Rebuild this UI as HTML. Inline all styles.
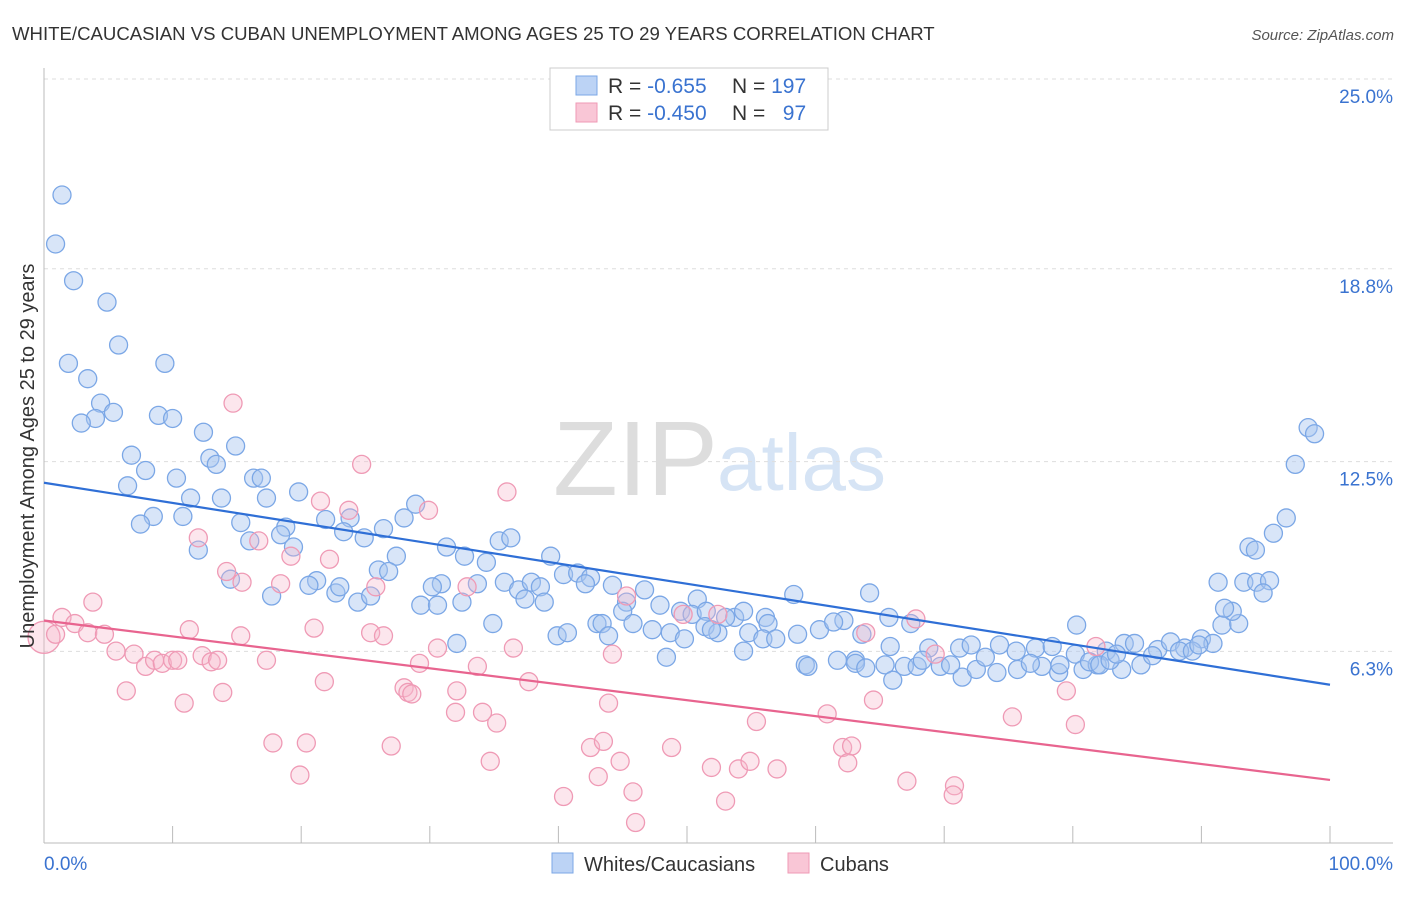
<!DOCTYPE html>
<html><head><meta charset="utf-8">
<style>
body{margin:0;background:#fff;font-family:"Liberation Sans",sans-serif;}
svg text{font-family:"Liberation Sans",sans-serif;}
</style></head>
<body>
<svg id="chart" width="1406" height="892" viewBox="0 0 1406 892" xmlns="http://www.w3.org/2000/svg">
<text x="12" y="40" font-size="18.6" fill="#333">WHITE/CAUCASIAN VS CUBAN UNEMPLOYMENT AMONG AGES 25 TO 29 YEARS CORRELATION CHART</text>
<text x="1394" y="40" font-size="15" fill="#555" font-style="italic" text-anchor="end">Source: ZipAtlas.com</text>
<g>
<text x="553" y="495" font-size="106" fill="#ddd" font-family="Liberation Serif">ZIP</text>
<text x="717" y="490" font-size="80" fill="#d6e4f5">atlas</text>
</g>
<g id="grid"></g>
<g id="axes"></g>
<g id="points"></g>
<g id="lines"></g>
<text x="34" y="456" font-size="20" fill="#333" text-anchor="middle" transform="rotate(-90 34 456)">Unemployment Among Ages 25 to 29 years</text>
<g>
<rect x="550" y="68" width="278" height="62" fill="#fff" stroke="#ccc"/>
<rect x="576" y="76" width="21" height="19" fill="#bcd3f5" stroke="#7ba7e6"/>
<rect x="576" y="103" width="21" height="19" fill="#f9c6d6" stroke="#ef9ab5"/>
<text x="608" y="93" font-size="21" fill="#333">R = <tspan fill="#3a73d0">-0.655</tspan></text>
<text x="732" y="93" font-size="21" fill="#333">N = <tspan fill="#3a73d0">197</tspan></text>
<text x="608" y="120" font-size="21" fill="#333">R = <tspan fill="#3a73d0">-0.450</tspan></text>
<text x="732" y="120" font-size="21" fill="#333">N = <tspan fill="#3a73d0">&#160;&#160;97</tspan></text>
</g>
<g>
<rect x="552" y="853" width="21" height="20" fill="#bcd3f5" stroke="#7ba7e6"/>
<text x="584" y="871" font-size="20" fill="#333">Whites/Caucasians</text>
<rect x="788" y="853" width="21" height="20" fill="#f9c6d6" stroke="#ef9ab5"/>
<text x="820" y="871" font-size="20" fill="#333">Cubans</text>
</g>
</svg>
<script>
const yTicks=[25.0,18.8,12.5,6.3];
const yTickLabels=["25.0%","18.8%","12.5%","6.3%"];
const xTicks=[0,10,20,30,40,50,60,70,80,90,100];
const whitesX=[1.4,0.9,2.3,4.9,5.8,1.9,9.4,3.4,4.4,5.4,4.0,2.9,8.9,10.0,12.4,14.9,6.8,12.9,13.4,7.9,10.3,16.3,16.9,6.5,11.4,13.8,17.3,19.8,8.5,10.8,7.5,15.3,21.9,23.8,18.8,23.3,26.4,28.0,28.9,18.4,19.4,16.0,12.0,24.9,31.3,32.7,35.4,36.3,39.4,27.4,26.0,26.8,30.9,33.7,34.4,35.8,30.2,21.2,20.6,17.7,14.5,22.7,24.4,25.4,23.0,29.3,30.6,32.5,36.9,37.9,38.6,40.4,41.5,42.5,42.1,44.2,46.7,45.3,47.9,50.8,37.4,38.9,43.0,43.4,45.0,45.8,49.5,50.4,51.5,53.7,56.1,51.4,52.4,53.0,54.4,58.3,64.2,62.2,65.7,67.4,56.3,39.9,40.7,43.9,47.3,48.7,49.8,51.9,54.8,55.9,56.9,58.6,60.3,61.4,63.6,65.8,68.8,71.2,72.1,74.3,75.6,77.1,78.4,80.2,80.3,82.6,84.0,84.8,86.6,87.6,88.7,90.0,90.9,91.6,92.9,92.4,91.8,91.3,93.3,94.3,95.3,94.8,93.7,94.2,95.6,96.6,97.3,98.3,98.8,34.9,32.1,48.4,54.4,59.2,59.4,61.7,63.1,65.4,66.9,67.9,69.7,71.4,72.5,74.1,75.7,77.6,78.9,80.8,81.9,83.8,85.3,86.2,88.3,89.3,89.8,63.1,63.9,66.0,68.3,70.5,73.2,76.7,79.0,81.3,82.1,82.9,83.4];
const whitesY=[21.8,20.2,19.0,18.3,16.9,16.3,16.3,15.8,15.0,14.7,14.5,14.35,14.6,14.5,14.05,13.6,13.3,13.2,13.0,12.8,12.55,12.55,12.55,12.3,11.9,11.9,11.9,12.1,11.3,11.3,11.05,11.1,11.2,11.25,10.95,10.8,10.9,11.25,11.7,10.7,10.3,10.5,10.2,10.6,10.3,10.0,10.5,10.6,10.0,10.0,9.55,9.5,9.1,9.1,9.8,9.15,9.0,9.2,9.05,8.7,9.25,8.8,8.5,8.7,9.0,8.4,8.4,8.5,8.9,9.15,9.0,9.4,9.45,9.3,9.1,9.05,8.9,8.5,8.4,8.6,8.6,8.5,7.8,7.8,8.2,7.8,8.2,8.1,8.2,8.0,8.0,7.7,7.5,8.0,8.2,8.75,8.8,7.9,8.0,7.8,7.8,7.4,7.5,7.4,7.6,7.5,7.3,7.6,7.5,7.3,7.3,7.45,7.6,7.85,7.45,7.05,7.0,7.0,7.1,7.1,6.9,7.0,7.05,6.8,7.75,6.9,7.15,7.15,6.95,7.2,7.0,7.3,7.15,7.75,7.8,8.2,8.3,9.15,9.15,9.15,9.2,8.8,10.3,10.2,10.75,11.25,13.0,14.2,14.0,7.8,7.15,6.7,6.9,6.45,6.4,6.6,6.6,6.45,6.4,6.4,6.4,6.05,6.3,6.2,6.3,6.4,6.2,6.3,6.45,6.3,6.45,6.75,6.9,6.9,7.1,6.5,6.35,5.95,6.6,6.45,6.7,6.5,6.45,6.55,6.45,6.6,6.8];
const cubansX=[0,1.4,2.4,3.8,0.9,3.4,4.7,5.6,7.0,7.9,8.6,9.2,10.0,10.4,12.3,13.0,13.5,6.4,10.9,13.9,14.7,24.7,36.0,21.5,23.7,29.9,12.0,16.7,19.2,22.2,14.2,15.4,18.4,25.8,32.9,45.3,49.7,52.4,63.9,67.8,69.3,81.8,11.3,15.3,21.0,25.4,26.4,30.6,36.5,44.2,17.3,29.2,33.7,21.8,32.1,37.7,28.0,28.3,28.6,43.9,34.1,32.0,35.2,64.5,79.5,55.4,60.9,75.3,80.2,17.8,20.4,27.0,42.5,43.5,48.8,62.1,62.8,34.7,44.8,51.9,54.0,54.9,57.0,62.5,19.9,43.1,67.1,70.8,70.7,40.4,45.8,53.0,46.0];
const cubansY=[7.35,8.0,7.8,8.5,7.45,7.5,7.45,6.9,6.8,6.4,6.6,6.5,6.6,6.6,6.75,6.55,6.6,5.6,5.2,5.55,15.0,13.0,12.1,11.8,11.5,11.5,10.6,10.5,10.0,9.9,9.5,9.15,9.1,9.0,9.0,8.7,8.1,8.1,7.5,7.95,6.8,7.05,7.6,7.4,7.65,7.5,7.4,7.0,7.0,6.8,6.6,6.5,6.4,5.9,5.6,5.9,5.7,5.55,5.5,5.2,4.9,4.9,4.55,5.3,5.6,4.6,4.85,4.75,4.5,3.9,3.9,3.8,3.75,3.95,3.75,3.75,3.8,3.3,3.3,3.1,3.05,3.3,3.05,3.25,2.85,2.8,2.65,2.5,2.2,2.15,2.3,2.0,1.3];
const whitesTrend=[12.4,5.8];
const cubansTrend=[7.9,2.69];
const READ_OFFSET=0.59;
const NS='http://www.w3.org/2000/svg';
const X0=44,XW=12.86,Y0=79,YK=30.61;
function xs(v){return X0+v*XW;}
function ys(v){return Y0+(25-v)*YK;}
function yd(v){return ys(v-READ_OFFSET);}
function mk(tag,attrs,parent){const e=document.createElementNS(NS,tag);for(const k in attrs)e.setAttribute(k,attrs[k]);parent.appendChild(e);return e;}
const grid=document.getElementById('grid'),axes=document.getElementById('axes'),pts=document.getElementById('points'),lines=document.getElementById('lines');
yTicks.forEach((t,i)=>{
  const l=mk('line',{x1:44,x2:1393,y1:ys(t),y2:ys(t),stroke:'#ddd','stroke-dasharray':'4,4'},grid);
  
  
  const tx=mk('text',{x:1393,y:ys(t)+24,'font-size':19,fill:'#3a73d0','text-anchor':'end'},axes);
  tx.textContent=yTickLabels[i];
  
  
});
const ax=mk('line',{x1:44,x2:44,y1:68,y2:843,stroke:'#bbb'},axes);


const bx=mk('line',{x1:44,x2:1393,y1:843,y2:843,stroke:'#bbb'},axes);


xTicks.forEach(t=>{
  if(t===0)return;
  const l=mk('line',{x1:xs(t),x2:xs(t),y1:826,y2:843,stroke:'#bbb'},axes);
  
  
});
const xl0=mk('text',{x:44,y:870,'font-size':19,fill:'#3a73d0'},axes);xl0.textContent='0.0%';


const xl1=mk('text',{x:1393,y:870,'font-size':19,fill:'#3a73d0','text-anchor':'end'},axes);xl1.textContent='100.0%';


whitesX.forEach((x,i)=>{
  const c=mk('circle',{cx:xs(x),cy:yd(whitesY[i]),r:9,fill:'rgba(168,198,240,0.45)',stroke:'#7ba7e6','stroke-width':1.3},pts);
  
  
});
cubansX.forEach((x,i)=>{
  const c=mk('circle',{cx:xs(x),cy:yd(cubansY[i]),r:i===0?16:9,fill:'rgba(246,184,204,0.35)',stroke:'#ef9ab5','stroke-width':1.3},pts);
  
  
});
const tl1=mk('line',{x1:xs(0),x2:xs(100),y1:yd(whitesTrend[0]),y2:yd(whitesTrend[1]),stroke:'#2f6fd6','stroke-width':2.2},lines);


const tl2=mk('line',{x1:xs(0),x2:xs(100),y1:yd(cubansTrend[0]),y2:yd(cubansTrend[1]),stroke:'#e8648f','stroke-width':2.2},lines);


</script>
</body></html>
